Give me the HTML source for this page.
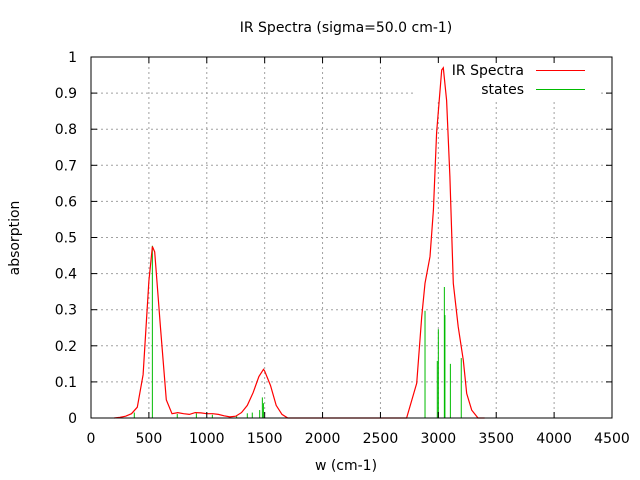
<!DOCTYPE html>
<html><head><meta charset="utf-8"><style>
html,body{margin:0;padding:0;background:#fff;}
svg{display:block;font-family:"DejaVu Sans","Liberation Sans",sans-serif;font-size:14px;}
</style></head><body>
<svg id="chart" width="640" height="480" viewBox="0 0 640 480" xmlns="http://www.w3.org/2000/svg">
<rect x="0" y="0" width="640" height="480" fill="#fff"/>
<g id="grid"></g>
<rect x="416" y="60" width="184" height="40" fill="#fff"/>
<g id="series"></g>
<g id="axes"></g>
<text x="346" y="32" text-anchor="middle">IR Spectra (sigma=50.0 cm-1)</text>
<text x="346" y="470" text-anchor="middle">w (cm-1)</text>
<text x="0" y="0" text-anchor="middle" transform="translate(19,238) rotate(-90)">absorption</text>
<g>
<text x="524" y="75" text-anchor="end">IR Spectra</text>
<line x1="536" y1="70.5" x2="585" y2="70.5" stroke="#ff0000" stroke-width="1"/>
<text x="524" y="94" text-anchor="end">states</text>
<line x1="536" y1="89.5" x2="585" y2="89.5" stroke="#00bb00" stroke-width="1"/>
</g>
</svg>
<script>
const xTicks = [0,500,1000,1500,2000,2500,3000,3500,4000,4500];
const yTicks = [0,0.1,0.2,0.3,0.4,0.5,0.6,0.7,0.8,0.9,1];
const yTickLabels = ["0","0.1","0.2","0.3","0.4","0.5","0.6","0.7","0.8","0.9","1"];
const stickW = [374,530,745,910,1048,1258,1350,1393,1457,1480,1489,2885,2991,3000,3052,3057,3104,3198];
const stickV = [0.015,0.477,0.011,0.013,0.009,0.005,0.013,0.015,0.022,0.057,0.041,0.297,0.158,0.246,0.363,0.285,0.150,0.166];
const specW = [200,250,300,350,400,450,500,530,550,600,650,700,750,800,850,900,950,1000,1050,1100,1150,1200,1250,1300,1350,1400,1450,1490,1500,1550,1600,1650,1700,2700,2726,2813,2856,2885,2928,2957,2985,3029,3043,3071,3100,3129,3172,3216,3245,3288,3343,3400];
const specV = [0,0.002,0.005,0.012,0.03,0.12,0.38,0.475,0.46,0.25,0.05,0.012,0.015,0.012,0.01,0.015,0.014,0.012,0.012,0.01,0.006,0.003,0.005,0.015,0.035,0.07,0.115,0.135,0.13,0.09,0.035,0.01,0,0,0,0.096,0.28,0.373,0.447,0.576,0.79,0.964,0.97,0.88,0.668,0.373,0.253,0.16,0.068,0.022,0,0];

const L=91,R=612,T=57,B=418,XMAX=4500,YMAX=1;
const sx=w=>L+w*(R-L)/XMAX;
const sy=v=>B-v*(B-T)/YMAX;
const NS="http://www.w3.org/2000/svg";
function mk(tag,attrs,parent){const e=document.createElementNS(NS,tag);for(const k in attrs)e.setAttribute(k,attrs[k]);parent.appendChild(e);return e;}
const grid=document.getElementById('grid'),axes=document.getElementById('axes'),series=document.getElementById('series');

xTicks.forEach((t,i)=>{
  const x=sx(t);
  if(i>0&&i<xTicks.length-1){
    const g=mk('line',{x1:x,y1:T,x2:x,y2:B,stroke:'#a0a0a0','stroke-dasharray':'2,3'},grid);
    
    
  }
  const a=mk('line',{x1:x,y1:B,x2:x,y2:B-6,stroke:'#000'},axes);
  
  
  const b=mk('line',{x1:x,y1:T,x2:x,y2:T+6,stroke:'#000'},axes);
  
  
  const tx=mk('text',{x:x,y:443,'text-anchor':'middle'},axes);
  tx.textContent=String(t);
  
  
});
yTicks.forEach((t,i)=>{
  const y=sy(t);
  if(i>0&&i<yTicks.length-1){
    const g=mk('line',{x1:L,y1:y,x2:R,y2:y,stroke:'#a0a0a0','stroke-dasharray':'2,3'},grid);
    
    
  }
  const a=mk('line',{x1:L,y1:y,x2:L+6,y2:y,stroke:'#000'},axes);
  
  
  const b=mk('line',{x1:R,y1:y,x2:R-6,y2:y,stroke:'#000'},axes);
  
  
  const tx=mk('text',{x:77,y:y+5,'text-anchor':'end'},axes);
  tx.textContent=yTickLabels[i];
  
  
});
const frame=mk('rect',{x:L,y:T,width:R-L,height:B-T,fill:'none',stroke:'#000'},axes);



stickW.forEach((w,i)=>{
  const s=mk('line',{x1:sx(w),y1:B,x2:sx(w),y2:sy(stickV[i]),stroke:'#00bb00','stroke-width':1},series);
  
  
});
const pts=specW.map((w,i)=>sx(w).toFixed(1)+','+sy(specV[i]).toFixed(1)).join(' ');
const pl=mk('polyline',{points:pts,fill:'none',stroke:'#ff0000','stroke-width':1.2},series);


</script>
</body></html>
